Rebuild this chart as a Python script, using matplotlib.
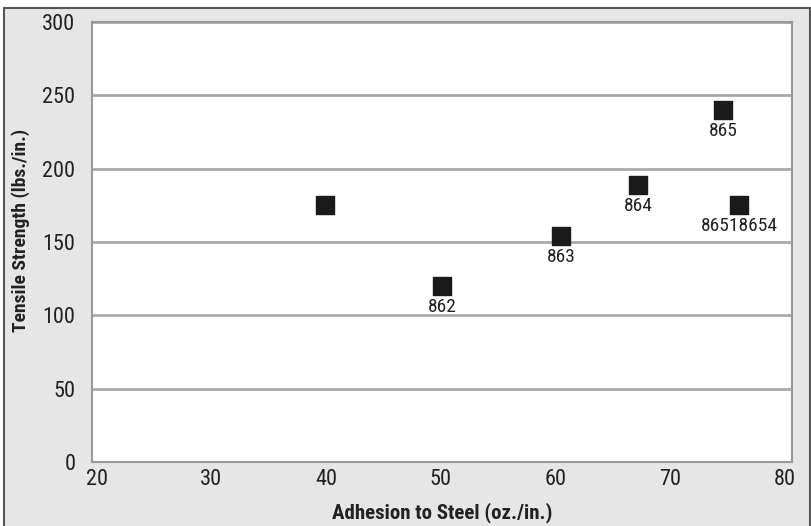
import matplotlib.pyplot as plt
from matplotlib.patches import Rectangle

# data
adhesion = [39.9, 50.1, 60.5, 67.2, 74.6, 76.0]
tensile = [175, 120, 154, 189, 240, 175]
labels = ["", "862", "863", "864", "865", "86518654"]

x_ticks = [20, 30, 40, 50, 60, 70, 80]
y_ticks = [0, 50, 100, 150, 200, 250, 300]

plt.rcParams['font.family'] = ['Roboto Condensed', 'DejaVu Sans']

fig = plt.figure(figsize=(8.12, 5.26), dpi=100)
fig.patch.set_facecolor('white')
# grey panel with dark border behind the plot
fig.patches.append(Rectangle((4 / 812, -0.01), 806 / 812, 1 - 8 / 526 + 0.01,
                             transform=fig.transFigure, facecolor='#e6e6e6',
                             edgecolor='#555555', linewidth=1.5, zorder=-10))

ax = fig.add_axes([92 / 812, 1 - 462 / 526, 700 / 812, 440 / 526])
ax.set_facecolor('white')
ax.set_xlim(19.6, 80.6)
ax.set_ylim(0, 300)
ax.set_xticks(x_ticks)
ax.set_yticks(y_ticks)
ax.tick_params(length=0, labelsize=16, colors='#222222')
ax.tick_params(axis='x', pad=5)
ax.tick_params(axis='y', pad=12)

for s in ax.spines.values():
    s.set_color('#999999')
    s.set_linewidth(1.5)
ax.grid(axis='y', color='#aaaaaa', linewidth=2)
ax.set_axisbelow(True)

ax.scatter(adhesion, tensile, marker='s', s=150, color='#1a1a1a', zorder=3)
for x, y, t in zip(adhesion, tensile, labels):
    ax.annotate(t, (x, y), xytext=(0, -8.5), textcoords='offset points',
                ha='center', va='top', fontsize=14, color='#222222')

ax.set_xlabel('Adhesion to Steel (oz./in.)', fontsize=15, fontweight='bold',
              color='#222222', labelpad=9)
ax.set_ylabel('Tensile Strength (lbs./in.)', fontsize=14, fontweight='bold',
              color='#222222')
ax.yaxis.set_label_coords(-0.088, 0.527)

fig.savefig('out.png', dpi=100, facecolor=fig.get_facecolor())
